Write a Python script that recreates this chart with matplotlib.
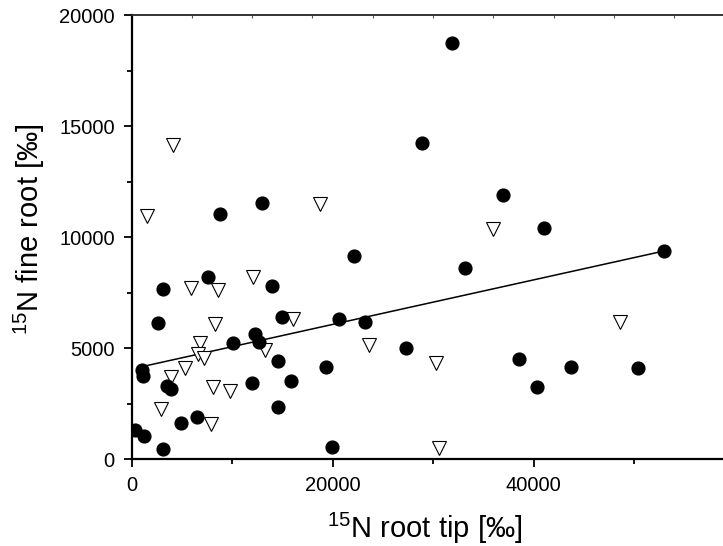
import matplotlib
matplotlib.use("Agg")
import matplotlib.pyplot as plt
import numpy as np

plt.rcParams['font.family'] = ['Liberation Sans', 'DejaVu Sans']
plt.rcParams['mathtext.fontset'] = 'custom'
plt.rcParams['mathtext.rm'] = 'Liberation Sans'
plt.rcParams['mathtext.it'] = 'Liberation Sans:italic'

# filled circles
circle_x = [350, 1270, 3100, 1010, 1170, 3100, 2670, 3500, 3930, 4930,
            6490, 7640, 8810, 12960, 10130, 12290, 12690, 11960, 14010, 14950,
            14550, 15840, 14550, 19350, 19950, 20680, 23230, 22140, 33180, 27310,
            38590, 40320, 31890, 28900, 36930, 41070, 53010, 43730, 50370]
circle_y = [1320, 1060, 460, 4020, 3750, 7670, 6140, 3300, 3150, 1620,
            1920, 8210, 11040, 11560, 5250, 5630, 5300, 3450, 7780, 6400,
            4430, 3540, 2340, 4170, 570, 6310, 6170, 9130, 8600, 5000,
            4530, 3240, 18740, 14240, 11890, 10430, 9380, 4140, 4100]

# open triangles
tri_x = [4160, 1510, 18760, 12120, 5920, 8640, 8310, 16040, 6820, 6590,
         7210, 5320, 3930, 13280, 8140, 9830, 2940, 7910, 23660, 30300,
         30630, 36000, 48640]
tri_y = [14160, 10960, 11490, 8200, 7700, 7600, 6100, 6320, 5230, 4740,
         4560, 4100, 3690, 4920, 3240, 3080, 2270, 1580, 5160, 4350,
         500, 10360, 6200]

# regression line end points
fit_x = [1340, 53010]
fit_y = [4200, 9380]

fig = plt.figure(figsize=(7.23, 5.46), dpi=100)
ax = fig.add_axes([0.1819, 0.1588, 0.8181, 0.8137])

ax.plot(fit_x, fit_y, color='black', lw=1.1, zorder=2)
ax.plot(tri_x, tri_y, linestyle='none', marker='v', markersize=9.8,
        markerfacecolor='white', markeredgecolor='black', markeredgewidth=0.8, zorder=3)
ax.plot(circle_x, circle_y, linestyle='none', marker='o', markersize=9.2,
        color='black', zorder=4)

ax.set_xlim(0, 58850)
ax.set_ylim(0, 20000)

ax.set_xticks([0, 20000, 40000])
ax.set_xticks([10000, 30000, 50000], minor=True)
ax.set_yticks(np.arange(0, 20001, 5000))
ax.set_yticks(np.arange(2500, 20000, 5000), minor=True)

ax.tick_params(which='major', direction='out', length=6, width=1.3, labelsize=14.5, pad=6)
ax.tick_params(which='minor', direction='out', length=3.5, width=1.3)
ax.tick_params(top=False, right=False)

ax.spines['right'].set_visible(False)
ax.spines['left'].set_linewidth(1.6)
ax.spines['bottom'].set_linewidth(1.6)
ax.spines['top'].set_linewidth(1.2)
ax.spines['top'].set_color('#333333')

# small ticks on the top frame
top = ax.secondary_xaxis('top')
top.set_xticks(np.arange(0, 58850, 6000))
top.tick_params(direction='in', length=2, width=0.8, colors='#555555', labeltop=False)
top.spines['top'].set_linewidth(1.2)
top.spines['top'].set_color('#333333')

ax.set_xlabel('$^{15}$N root tip [‰]', fontsize=21)
ax.set_ylabel('$^{15}$N fine root [‰]', fontsize=21)
ax.xaxis.set_label_coords(0.496, -0.115)
ax.yaxis.set_label_coords(-0.143, 0.518)

fig.savefig('out.png', dpi=100)
